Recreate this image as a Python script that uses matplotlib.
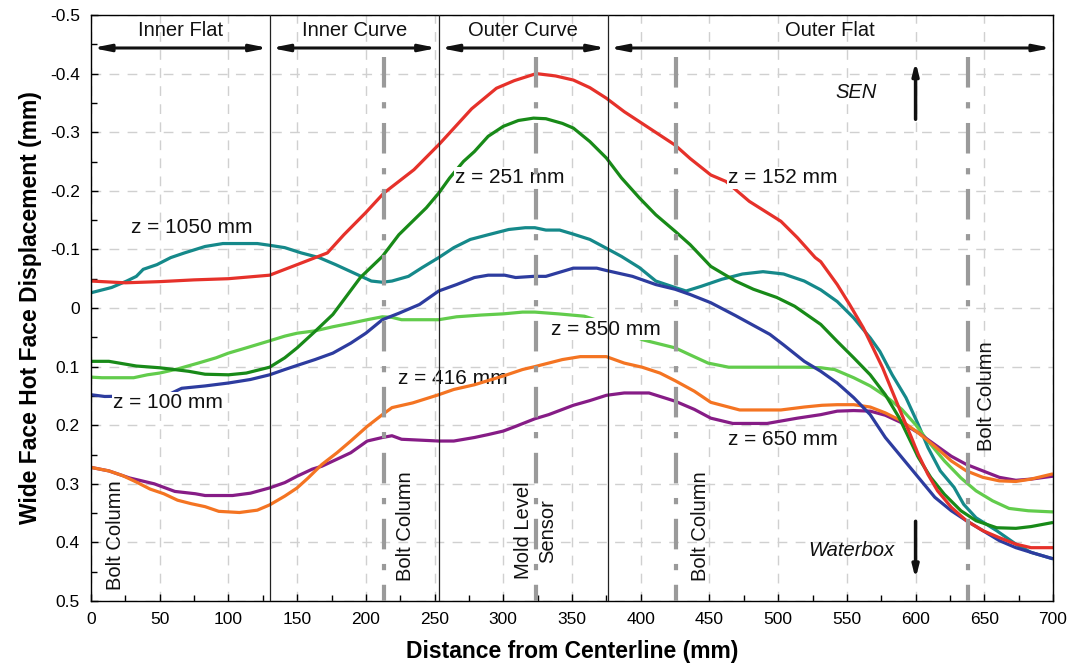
import matplotlib
matplotlib.use("Agg")
import matplotlib.pyplot as plt
import numpy as np

plt.rcParams['font.family'] = ['Liberation Sans', 'DejaVu Sans']
plt.rcParams['lines.scale_dashes'] = False

# ---------------- data ----------------
x_152 = [0, 25, 50, 75, 100, 130, 150, 172, 184, 200, 213, 235, 254, 277, 295, 308, 324, 338,
         351, 363, 375, 388, 401, 425, 436, 451, 462, 469, 479, 502, 514, 527, 531, 543, 552,
         562, 569, 576, 583, 590, 597, 602, 609, 616, 626, 637, 649, 661, 673, 684, 700]
y_152 = [-0.046, -0.043, -0.045, -0.048, -0.050, -0.056, -0.074, -0.094, -0.125, -0.163, -0.196,
         -0.236, -0.281, -0.340, -0.375, -0.388, -0.400, -0.396, -0.389, -0.376, -0.358, -0.335,
         -0.315, -0.278, -0.255, -0.227, -0.216, -0.202, -0.182, -0.148, -0.120, -0.086, -0.079,
         -0.040, -0.006, 0.034, 0.068, 0.102, 0.142, 0.182, 0.221, 0.250, 0.284, 0.312, 0.340,
         0.363, 0.380, 0.392, 0.403, 0.409, 0.409]

x_251 = [0, 13, 33, 50, 71, 83, 100, 113, 130, 141, 150, 163, 176, 183, 196, 212, 224, 234, 244,
         253, 261, 271, 279, 289, 300, 311, 322, 331, 343, 351, 363, 375, 386, 399, 411, 425, 436,
         451, 469, 482, 499, 512, 531, 543, 555, 567, 578, 588, 595, 602, 611, 621, 633, 644, 659,
         673, 684, 700]
y_251 = [0.091, 0.091, 0.099, 0.102, 0.108, 0.113, 0.114, 0.111, 0.101, 0.085, 0.068, 0.040,
         0.011, -0.011, -0.052, -0.088, -0.125, -0.148, -0.171, -0.196, -0.222, -0.250, -0.267,
         -0.293, -0.310, -0.320, -0.324, -0.323, -0.315, -0.307, -0.284, -0.256, -0.222, -0.188,
         -0.159, -0.131, -0.108, -0.071, -0.046, -0.032, -0.018, -0.003, 0.028, 0.057, 0.085,
         0.114, 0.148, 0.187, 0.221, 0.255, 0.289, 0.318, 0.346, 0.363, 0.375, 0.376, 0.373, 0.366]

x_1050 = [0, 15, 26, 33, 38, 48, 58, 68, 83, 96, 121, 130, 141, 153, 166, 178, 191, 204, 212,
          219, 231, 241, 253, 264, 276, 289, 304, 316, 323, 331, 341, 351, 363, 375, 386, 399,
          411, 425, 433, 444, 459, 474, 489, 504, 519, 531, 543, 555, 567, 574, 583, 593, 602,
          609, 618, 628, 635, 644, 659, 673, 684, 700]
y_1050 = [-0.026, -0.035, -0.046, -0.054, -0.066, -0.074, -0.086, -0.094, -0.105, -0.110, -0.110,
          -0.107, -0.103, -0.094, -0.086, -0.074, -0.060, -0.046, -0.044, -0.046, -0.054, -0.069,
          -0.086, -0.103, -0.117, -0.125, -0.134, -0.137, -0.137, -0.133, -0.133, -0.126, -0.117,
          -0.102, -0.088, -0.069, -0.046, -0.035, -0.029, -0.037, -0.049, -0.058, -0.062, -0.058,
          -0.046, -0.031, -0.011, 0.017, 0.051, 0.074, 0.114, 0.153, 0.199, 0.238, 0.278, 0.306,
          0.335, 0.358, 0.380, 0.403, 0.417, 0.428]

x_100 = [0, 10, 35, 58, 66, 83, 100, 116, 130, 141, 150, 163, 176, 189, 200, 212, 224, 239, 253,
         266, 279, 289, 301, 309, 322, 331, 351, 368, 375, 394, 411, 425, 436, 451, 469, 494, 504,
         519, 531, 543, 555, 567, 578, 590, 602, 614, 626, 637, 649, 661, 673, 684, 700]
y_100 = [0.148, 0.151, 0.150, 0.146, 0.137, 0.133, 0.128, 0.122, 0.114, 0.105, 0.098, 0.088,
         0.077, 0.060, 0.043, 0.020, 0.009, -0.006, -0.029, -0.040, -0.052, -0.056, -0.056, -0.052,
         -0.054, -0.054, -0.068, -0.068, -0.064, -0.054, -0.040, -0.032, -0.023, -0.009, 0.013,
         0.045, 0.063, 0.091, 0.108, 0.128, 0.153, 0.182, 0.221, 0.255, 0.289, 0.323, 0.346,
         0.363, 0.380, 0.397, 0.409, 0.417, 0.428]

x_850 = [0, 8, 31, 41, 50, 63, 78, 91, 100, 113, 130, 141, 150, 163, 176, 189, 201, 212, 219, 226,
         253, 266, 284, 300, 314, 323, 340, 359, 380, 401, 425, 436, 449, 464, 494, 519, 531, 541,
         555, 567, 578, 590, 600, 609, 621, 633, 644, 656, 668, 682, 700]
y_850 = [0.118, 0.119, 0.119, 0.114, 0.111, 0.104, 0.094, 0.085, 0.077, 0.068, 0.056, 0.048,
         0.043, 0.039, 0.032, 0.026, 0.020, 0.015, 0.016, 0.020, 0.020, 0.015, 0.012, 0.010, 0.007,
         0.007, 0.010, 0.014, 0.030, 0.054, 0.068, 0.080, 0.094, 0.101, 0.101, 0.101, 0.102, 0.105,
         0.119, 0.133, 0.150, 0.173, 0.199, 0.227, 0.261, 0.290, 0.312, 0.329, 0.342, 0.346, 0.348]

x_416 = [0, 13, 23, 33, 43, 53, 63, 73, 83, 93, 108, 121, 130, 141, 150, 158, 168, 179, 189, 201,
         212, 219, 234, 253, 264, 279, 300, 314, 323, 343, 356, 375, 388, 401, 414, 425, 439, 451,
         472, 502, 519, 532, 543, 555, 567, 578, 590, 602, 614, 626, 637, 649, 661, 673, 684, 700]
y_416 = [0.272, 0.278, 0.286, 0.297, 0.309, 0.317, 0.328, 0.334, 0.339, 0.347, 0.349, 0.345,
         0.336, 0.321, 0.307, 0.290, 0.267, 0.247, 0.227, 0.202, 0.182, 0.170, 0.162, 0.148, 0.139,
         0.131, 0.116, 0.105, 0.100, 0.088, 0.083, 0.083, 0.094, 0.101, 0.111, 0.124, 0.142, 0.161,
         0.174, 0.174, 0.169, 0.166, 0.165, 0.165, 0.169, 0.179, 0.193, 0.213, 0.236, 0.261, 0.278,
         0.289, 0.295, 0.296, 0.292, 0.283]

x_650 = [0, 13, 28, 46, 61, 76, 83, 103, 116, 130, 141, 150, 161, 168, 179, 189, 201, 212, 219,
         226, 253, 264, 279, 289, 300, 309, 323, 333, 351, 363, 375, 388, 406, 425, 439, 451, 467,
         492, 514, 531, 543, 555, 567, 578, 590, 602, 614, 626, 637, 649, 661, 673, 684, 700]
y_650 = [0.272, 0.278, 0.290, 0.300, 0.313, 0.317, 0.320, 0.320, 0.316, 0.307, 0.298, 0.287,
         0.275, 0.270, 0.258, 0.247, 0.227, 0.221, 0.218, 0.224, 0.227, 0.227, 0.221, 0.216, 0.210,
         0.202, 0.189, 0.182, 0.166, 0.158, 0.149, 0.145, 0.145, 0.159, 0.173, 0.188, 0.197, 0.197,
         0.188, 0.182, 0.176, 0.175, 0.176, 0.183, 0.196, 0.213, 0.233, 0.253, 0.267, 0.278, 0.289,
         0.294, 0.292, 0.287]

section_edges = [0, 130, 253, 376, 700]
section_names = ["Inner Flat", "Inner Curve", "Outer Curve", "Outer Flat"]
bolt_columns = [213, 426, 638]
sensor_x = 324

x_ticks = list(range(0, 701, 50))
y_ticks = [-0.5, -0.4, -0.3, -0.2, -0.1, 0, 0.1, 0.2, 0.3, 0.4, 0.5]
y_tick_labels = ["-0.5", "-0.4", "-0.3", "-0.2", "-0.1", "0", "0.1", "0.2", "0.3", "0.4", "0.5"]

# ---------------- figure ----------------
fig = plt.figure(figsize=(10.72, 6.64), dpi=100)
ax = fig.add_axes([91/1072, 1-601/664, (1053-91)/1072, (601-15)/664])

series = [
    (x_1050, y_1050, "#15898a"),
    (x_850, y_850, "#62cc4c"),
    (x_650, y_650, "#861c86"),
    (x_416, y_416, "#f47422"),
    (x_100, y_100, "#2d3c9f"),
    (x_251, y_251, "#188a18"),
    (x_152, y_152, "#e6312a"),
]
for xs, ys, c in series:
    ax.plot(xs, ys, color=c, lw=2.3, zorder=2, solid_capstyle='butt')

ax.set_xlim(0, 700)
ax.set_ylim(0.5, -0.5)
ax.set_xticks(x_ticks)
ax.set_yticks(y_ticks)
ax.set_yticklabels(y_tick_labels)
ax.set_xticks(np.arange(25, 700, 50), minor=True)
ax.set_yticks(np.arange(-0.45, 0.5, 0.1), minor=True)
ax.tick_params(which='both', direction='in', top=False, right=False, labelsize=12.5,
               pad=8, width=1)
ax.tick_params(which='major', length=5)
ax.tick_params(which='minor', length=4)
ax.grid(True, which='major', color='#d0d0d0', lw=1, ls=(0, (7, 6)), zorder=0)
for s in ax.spines.values():
    s.set_linewidth(1.0)

ax.set_xlabel("Distance from Centerline (mm)", fontsize=16.5, fontweight='bold', labelpad=9)
ax.set_ylabel("Wide Face Hot Face Displacement (mm)", fontsize=16.5, fontweight='bold', labelpad=6)

# section boundaries
for xb in section_edges[1:-1]:
    ax.axvline(xb, color='#222222', lw=0.9, zorder=4)

# section arrows and names
for i, name in enumerate(section_names):
    a, b = section_edges[i], section_edges[i+1]
    ax.annotate("", xy=(a + 1, -0.4437), xytext=(b - 1, -0.4437),
                arrowprops=dict(arrowstyle='<|-|>,head_length=1.0,head_width=0.2',
                                color='#111111', lw=2.2, shrinkA=0, shrinkB=0), zorder=5)
    ax.text((a + b) / 2, -0.473, name, ha='center', va='center', fontsize=14.5, color='#111111')

# bolt columns / sensor
for xc in bolt_columns + [sensor_x]:
    ax.plot([xc, xc], [-0.428, 0.5], color='#9a9a9a', lw=3,
            ls=(0, (22, 10.5, 4.5, 10.5)), zorder=4, solid_capstyle='butt')

rot_kw = dict(rotation=90, ha='center', va='center', fontsize=14.5, color='#111111', zorder=6)
ax.text(18, 0.388, "Bolt Column", **rot_kw)
ax.text(229, 0.372, "Bolt Column", **rot_kw)
ax.text(323.5, 0.38, "Mold Level\nSensor", linespacing=1.3, **rot_kw)
ax.text(443.5, 0.372, "Bolt Column", **rot_kw)
ax.text(651.5, 0.151, "Bolt Column", **rot_kw)

# curve labels
box = dict(facecolor='white', edgecolor='none', pad=1.0)
lab_kw = dict(fontsize=15, color='#111111', va='center', ha='left')
ax.text(29, -0.138, "z = 1050 mm", zorder=3, **lab_kw)
ax.text(265, -0.222, "z = 251 mm", bbox=box, zorder=3, **lab_kw)
ax.text(463.5, -0.222, "z = 152 mm", bbox=box, zorder=3, **lab_kw)
ax.text(335, 0.036, "z = 850 mm", bbox=box, zorder=3, **lab_kw)
ax.text(223.5, 0.121, "z = 416 mm", zorder=1.5, **lab_kw)
ax.text(16, 0.162, "z = 100 mm", bbox=box, zorder=3, **lab_kw)
ax.text(463.5, 0.225, "z = 650 mm", zorder=3, **lab_kw)

# SEN / Waterbox arrows
ax.annotate("", xy=(600, -0.42), xytext=(600, -0.322),
            arrowprops=dict(arrowstyle='-|>,head_length=0.7,head_width=0.18',
                            color='#111111', lw=2.5, shrinkA=0, shrinkB=0), zorder=6)
ax.text(557, -0.367, "SEN", style='italic', fontsize=14.5, ha='center', va='center', color='#111111')
ax.annotate("", xy=(600, 0.462), xytext=(600, 0.364),
            arrowprops=dict(arrowstyle='-|>,head_length=0.7,head_width=0.18',
                            color='#111111', lw=2.5, shrinkA=0, shrinkB=0), zorder=6)
ax.text(553, 0.413, "Waterbox", style='italic', fontsize=14.5, ha='center', va='center', color='#111111')

fig.savefig("out.png", dpi=100)
